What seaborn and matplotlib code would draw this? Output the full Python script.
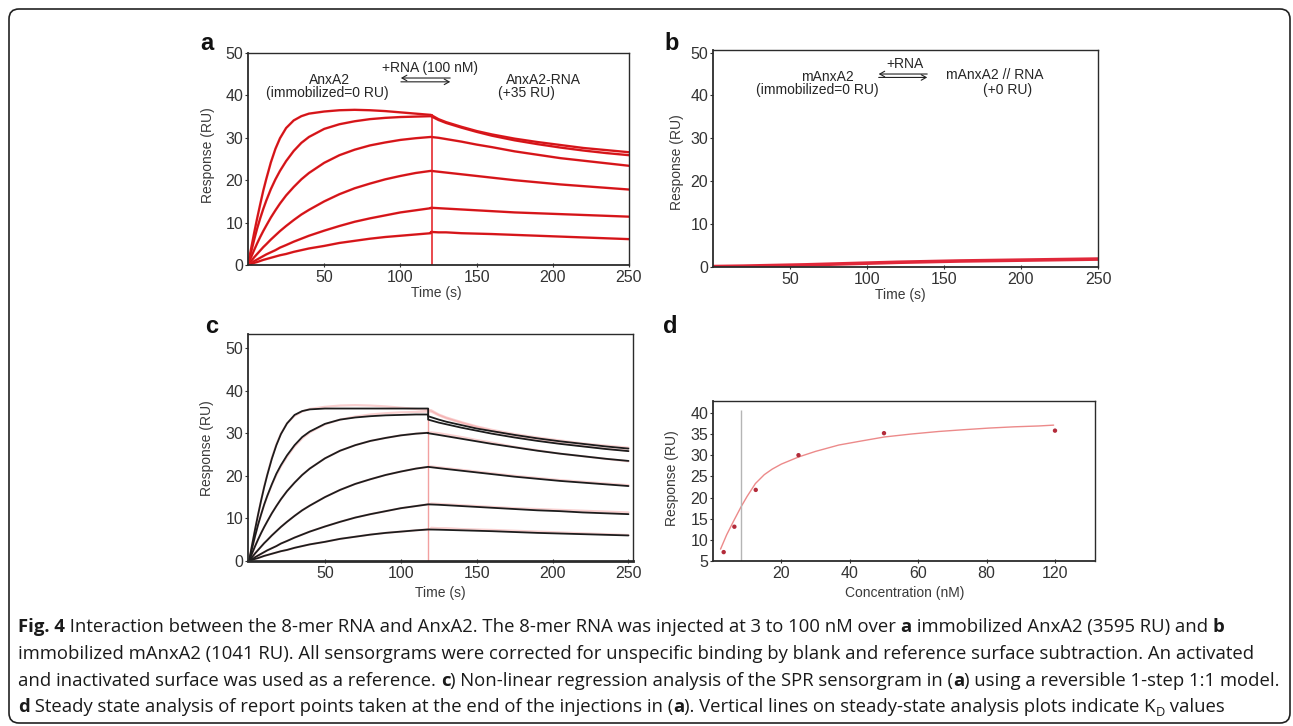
import matplotlib
matplotlib.use("Agg")
import matplotlib.pyplot as plt
import seaborn as sns
from matplotlib import font_manager
from matplotlib.patches import FancyBboxPatch
from matplotlib.transforms import IdentityTransform

W, H, DPI = 1293, 726, 100

# ---------------- data ----------------
# Panel a: sensorgrams (association 0-120 s, dissociation 120-250 s)
t_assoc = [0, 2, 4, 6, 8, 10, 12, 15, 18, 21, 25, 30, 35, 40, 50, 60, 70, 80, 90, 100, 110, 120]
t_dissoc = [120, 125, 130, 140, 150, 160, 175, 190, 205, 220, 235, 250]

a_assoc_1 = [0, 3.8, 7.5, 11.0, 14.3, 17.5, 20.3, 24.2, 27.4, 29.9, 32.3, 34.1, 35.1, 35.7, 36.2, 36.5, 36.6, 36.5, 36.3, 36.0, 35.7, 35.4]
a_assoc_2 = [0, 3.0, 5.9, 8.6, 11.0, 13.2, 15.2, 17.9, 20.2, 22.2, 24.5, 26.9, 28.8, 30.2, 32.1, 33.2, 33.9, 34.4, 34.7, 34.9, 35.0, 35.1]
a_assoc_3 = [0, 1.8, 3.5, 5.1, 6.6, 8.0, 9.3, 11.2, 12.9, 14.5, 16.4, 18.4, 20.2, 21.7, 24.1, 25.9, 27.2, 28.2, 28.9, 29.5, 29.9, 30.2]
a_assoc_4 = [0, 0.9, 1.8, 2.6, 3.4, 4.2, 4.9, 6.0, 7.0, 8.0, 9.2, 10.6, 11.9, 13.0, 15.0, 16.7, 18.1, 19.2, 20.2, 21.0, 21.7, 22.2]
a_assoc_5 = [0, 0.4, 0.9, 1.3, 1.7, 2.1, 2.5, 3.0, 3.5, 4.1, 4.7, 5.5, 6.2, 6.9, 8.1, 9.2, 10.2, 11.0, 11.7, 12.4, 12.9, 13.4]
a_assoc_6 = [0, 0.25, 0.5, 0.7, 0.95, 1.2, 1.4, 1.7, 2.0, 2.3, 2.6, 3.1, 3.5, 3.9, 4.5, 5.2, 5.7, 6.2, 6.6, 6.9, 7.2, 7.5]

a_dissoc_1 = [35.4, 34.4, 33.7, 32.6, 31.6, 30.8, 29.8, 29.0, 28.3, 27.6, 27.1, 26.6]
a_dissoc_2 = [35.1, 34.2, 33.5, 32.4, 31.4, 30.5, 29.4, 28.5, 27.7, 27.0, 26.4, 25.9]
a_dissoc_3 = [30.2, 30.0, 29.7, 29.1, 28.4, 27.8, 26.8, 26.0, 25.2, 24.6, 24.0, 23.4]
a_dissoc_4 = [22.2, 22.0, 21.8, 21.4, 21.0, 20.6, 20.0, 19.5, 19.0, 18.6, 18.2, 17.8]
a_dissoc_5 = [13.5, 13.4, 13.3, 13.1, 12.9, 12.7, 12.4, 12.2, 12.0, 11.8, 11.6, 11.4]
a_dissoc_6 = [7.8, 7.7, 7.7, 7.5, 7.4, 7.3, 7.1, 6.9, 6.7, 6.5, 6.3, 6.1]
a_injection_end = 120.5
a_injection_top = 35.5

# Panel b: mutant surface, flat response
b_time = [0, 20, 40, 60, 80, 100, 120, 140, 160, 180, 200, 220, 240, 250]
b_resp = [0.1, 0.2, 0.35, 0.5, 0.7, 0.9, 1.1, 1.25, 1.4, 1.5, 1.6, 1.7, 1.8, 1.85]

# Panel c: 1:1 model fits (black) over the data
c_t_assoc = [0, 2, 4, 6, 8, 10, 12, 15, 18, 21, 25, 30, 35, 40, 50, 60, 70, 80, 90, 100, 110, 118]
c_t_dissoc = [118, 125, 130, 140, 150, 160, 175, 190, 205, 220, 235, 250]
c_fit_assoc_1 = [0, 3.8, 7.5, 11.0, 14.3, 17.4, 20.2, 24.0, 27.2, 29.8, 32.3, 34.3, 35.2, 35.6, 35.8, 35.8, 35.8, 35.8, 35.8, 35.8, 35.8, 35.8]
c_fit_assoc_2 = [0, 3.0, 5.9, 8.6, 11.0, 13.3, 15.3, 18.0, 20.5, 22.5, 24.8, 27.2, 29.1, 30.4, 32.2, 33.2, 33.7, 34.0, 34.2, 34.3, 34.4, 34.4]
c_fit_assoc_3 = [0, 1.8, 3.5, 5.1, 6.6, 8.0, 9.3, 11.2, 12.9, 14.5, 16.4, 18.4, 20.2, 21.7, 24.1, 25.9, 27.2, 28.2, 28.9, 29.5, 29.9, 30.1]
c_fit_assoc_4 = [0, 0.9, 1.8, 2.6, 3.4, 4.2, 4.9, 6.0, 7.0, 8.0, 9.2, 10.6, 11.9, 13.0, 15.0, 16.7, 18.1, 19.2, 20.2, 21.0, 21.7, 22.1]
c_fit_assoc_5 = [0, 0.4, 0.9, 1.3, 1.7, 2.1, 2.5, 3.0, 3.5, 4.1, 4.7, 5.5, 6.2, 6.9, 8.1, 9.2, 10.2, 11.0, 11.7, 12.4, 12.9, 13.3]
c_fit_assoc_6 = [0, 0.25, 0.5, 0.7, 0.95, 1.2, 1.4, 1.7, 2.0, 2.3, 2.6, 3.1, 3.5, 3.9, 4.5, 5.2, 5.7, 6.2, 6.6, 6.9, 7.2, 7.4]
c_fit_dissoc_1 = [34.0, 33.2, 32.7, 31.9, 31.1, 30.5, 29.6, 28.8, 28.1, 27.5, 26.9, 26.4]
c_fit_dissoc_2 = [33.2, 32.5, 32.1, 31.3, 30.6, 29.9, 29.0, 28.2, 27.5, 26.9, 26.3, 25.8]
c_fit_dissoc_3 = [30.0, 29.6, 29.3, 28.7, 28.1, 27.5, 26.7, 25.9, 25.2, 24.6, 24.0, 23.5]
c_fit_dissoc_4 = [22.1, 21.8, 21.6, 21.2, 20.8, 20.4, 19.8, 19.3, 18.8, 18.4, 18.0, 17.6]
c_fit_dissoc_5 = [13.3, 13.2, 13.1, 12.9, 12.7, 12.5, 12.2, 11.9, 11.7, 11.4, 11.2, 11.0]
c_fit_dissoc_6 = [7.4, 7.35, 7.3, 7.2, 7.1, 7.0, 6.8, 6.6, 6.45, 6.3, 6.15, 6.0]
c_injection_end = 118
c_injection_top = 36.0

# Panel d: steady-state analysis
d_conc = [3.125, 6.25, 12.5, 25, 50, 100]
d_resp = [7.1, 13.1, 21.8, 30.0, 35.2, 35.8]
d_fit_conc = [2.2, 4, 6, 8.2, 10, 12.4, 15, 17.3, 20, 25.1, 30, 36.8, 43, 50.1, 58, 66, 73, 80.6, 88, 95.2, 99.6]
d_fit_resp = [7.8, 11.2, 14.4, 17.8, 20.3, 23.3, 25.4, 26.7, 27.9, 29.6, 30.9, 32.4, 33.3, 34.3, 35.0, 35.6, 36.0, 36.4, 36.7, 36.9, 37.1]
d_kd = 8.2
d_xticks = [20, 40, 60, 80, 100]
d_xticklabels = ["20", "40", "60", "80", "120"]

caption_lines = [
    [("Fig. 4", "bold"), (" Interaction between the 8-mer RNA and AnxA2. The 8-mer RNA was injected at 3 to 100 nM over ", "normal"),
     ("a", "bold"), (" immobilized AnxA2 (3595 RU) and ", "normal"), ("b", "bold")],
    [("immobilized mAnxA2 (1041 RU). All sensorgrams were corrected for unspecific binding by blank and reference surface subtraction. An activated", "normal")],
    [("and inactivated surface was used as a reference. ", "normal"), ("c", "bold"),
     (") Non-linear regression analysis of the SPR sensorgram in (", "normal"), ("a", "bold"),
     (") using a reversible 1-step 1:1 model.", "normal")],
    [("d", "bold"), (" Steady state analysis of report points taken at the end of the injections in (", "normal"), ("a", "bold"),
     ("). Vertical lines on steady-state analysis plots indicate K", "normal"), ("D", "sub"), (" values", "normal")],
]

# ---------------- styling ----------------
sns.set_style("white")
plt.rcParams["font.family"] = ["Liberation Sans", "DejaVu Sans"]
CAP = ["Open Sans", "DejaVu Sans"]
RED = "#e3181d"


def font_available(name):
    try:
        font_manager.findfont(font_manager.FontProperties(family=name), fallback_to_default=False)
        return True
    except Exception:
        return False


if font_available("Liberation Sans Narrow"):
    NARROW, LAB_SIZE = ["Liberation Sans Narrow", "DejaVu Sans"], 11
else:
    NARROW, LAB_SIZE = ["Liberation Sans", "DejaVu Sans"], 10

fig = plt.figure(figsize=(W / DPI, H / DPI), dpi=DPI)
fig.patch.set_facecolor("white")


def add_ax(left, top, right, bottom):
    return fig.add_axes([left / W, 1 - bottom / H, (right - left) / W, (bottom - top) / H])


def ftext(x, y, s, **kw):
    return fig.text(x / W, 1 - y / H, s, **kw)


def style(ax):
    for s in ax.spines.values():
        s.set_visible(True)
        s.set_color("#2b2b2b")
        s.set_linewidth(1.0)
    ax.spines["left"].set_linewidth(1.3)
    ax.spines["bottom"].set_linewidth(1.3)
    ax.tick_params(axis="y", labelsize=11.5, labelcolor="#333333", color="#333333",
                   length=2.5, width=0.8, direction="out", pad=1, left=True)
    ax.tick_params(axis="x", labelsize=11.5, labelcolor="#333333", color="#333333",
                   length=3, width=0.8, direction="inout", pad=2, bottom=True)
    ax.set_xlabel("")
    ax.set_ylabel("")
    ax.grid(False)


def eq_arrows(ax, x0, x1, y_top, y_bot):
    ax.annotate("", xy=(x0, y_top), xytext=(x1, y_top),
                arrowprops=dict(arrowstyle="->,head_length=0.35,head_width=0.2", lw=0.8, color="#222"))
    ax.annotate("", xy=(x1, y_bot), xytext=(x0, y_bot),
                arrowprops=dict(arrowstyle="->,head_length=0.35,head_width=0.2", lw=0.8, color="#222"))


# ---------------- panel a ----------------
ax_a = add_ax(248, 53, 629, 265)
a_assoc = [a_assoc_1, a_assoc_2, a_assoc_3, a_assoc_4, a_assoc_5, a_assoc_6]
a_dissoc = [a_dissoc_1, a_dissoc_2, a_dissoc_3, a_dissoc_4, a_dissoc_5, a_dissoc_6]
for va, vd in zip(a_assoc, a_dissoc):
    sns.lineplot(x=t_assoc + t_dissoc, y=va + vd, ax=ax_a, color=RED, lw=1.7,
                 estimator=None, sort=False, legend=False)
    sns.lineplot(x=t_assoc + t_dissoc, y=va + vd, ax=ax_a, color="#9a1515", lw=0.4, alpha=0.6,
                 estimator=None, sort=False, legend=False)
ax_a.vlines(a_injection_end, 0, a_injection_top, color=RED, lw=1.1)
ax_a.set_xlim(0, 250)
ax_a.set_ylim(0, 50)
ax_a.set_xticks([50, 100, 150, 200, 250])
ax_a.set_yticks([0, 10, 20, 30, 40, 50])
style(ax_a)
ax_a.text(53.8, 43.6, "AnxA2", ha="center", va="center", fontsize=10)
ax_a.text(51.8, 40.6, "(immobilized=0 RU)", ha="center", va="center", fontsize=10)
ax_a.text(119.4, 46.5, "+RNA (100 nM)", ha="center", va="center", fontsize=10)
eq_arrows(ax_a, 98.5, 134.5, 44.1, 43.2)
ax_a.text(193.6, 43.6, "AnxA2-RNA", ha="center", va="center", fontsize=10)
ax_a.text(183, 40.6, "(+35 RU)", ha="center", va="center", fontsize=10)

# ---------------- panel b ----------------
ax_b = add_ax(713, 50, 1098, 267)
sns.lineplot(x=b_time, y=b_resp, ax=ax_b, color="#e0283a", lw=2.6,
             estimator=None, sort=False, legend=False)
ax_b.set_xlim(0, 250)
ax_b.set_ylim(0, 50.6)
ax_b.set_xticks([50, 100, 150, 200, 250])
ax_b.set_yticks([0, 10, 20, 30, 40, 50])
style(ax_b)
ax_b.text(74, 44.3, "mAnxA2", ha="center", va="center", fontsize=10)
ax_b.text(67.5, 41.2, "(immobilized=0 RU)", ha="center", va="center", fontsize=10)
ax_b.text(124.7, 47.4, "+RNA", ha="center", va="center", fontsize=10)
eq_arrows(ax_b, 105.8, 140.9, 45.0, 44.2)
ax_b.text(183, 44.8, "mAnxA2 // RNA", ha="center", va="center", fontsize=10)
ax_b.text(191, 41.2, "(+0 RU)", ha="center", va="center", fontsize=10)

# ---------------- panel c ----------------
ax_c = add_ax(248, 334, 633, 561)
for va, vd in zip(a_assoc, a_dissoc):
    sns.lineplot(x=t_assoc + t_dissoc, y=va + vd, ax=ax_c, color="#f08a8a", lw=1.6, alpha=0.4,
                 estimator=None, sort=False, legend=False)
c_assoc = [c_fit_assoc_1, c_fit_assoc_2, c_fit_assoc_3, c_fit_assoc_4, c_fit_assoc_5, c_fit_assoc_6]
c_dissoc = [c_fit_dissoc_1, c_fit_dissoc_2, c_fit_dissoc_3, c_fit_dissoc_4, c_fit_dissoc_5, c_fit_dissoc_6]
ax_c.vlines(c_injection_end, 0, c_injection_top, color="#f2a0a0", lw=1.0)
for va, vd in zip(c_assoc, c_dissoc):
    sns.lineplot(x=c_t_assoc + c_t_dissoc, y=va + vd, ax=ax_c, color="#1c1c1c", lw=1.3,
                 estimator=None, sort=False, legend=False)
ax_c.set_xlim(-0.7, 253)
ax_c.set_ylim(0, 53.3)
ax_c.set_xticks([50, 100, 150, 200, 250])
ax_c.set_yticks([0, 10, 20, 30, 40, 50])
style(ax_c)
ax_c.spines["bottom"].set_linewidth(2.0)

# ---------------- panel d ----------------
ax_d = add_ax(713, 401, 1095, 561)
sns.lineplot(x=d_fit_conc, y=d_fit_resp, ax=ax_d, color="#ec8a8a", lw=1.0,
             estimator=None, sort=False, legend=False)
ax_d.vlines(d_kd, 5, 40.7, color="#b5b5b5", lw=1.0)
sns.scatterplot(x=d_conc, y=d_resp, ax=ax_d, color="#b32b3a", s=10, edgecolor="none", legend=False, zorder=5)
ax_d.set_xlim(0, 111.7)
ax_d.set_ylim(5, 42.8)
ax_d.set_xticks(d_xticks)
ax_d.set_xticklabels(d_xticklabels)
ax_d.set_yticks([5, 10, 15, 20, 25, 30, 35, 40])
style(ax_d)

# ---------------- axis labels and panel letters ----------------
lab = dict(family=NARROW, fontsize=LAB_SIZE, color="#3a3a3a", ha="center", va="center")
ftext(208, 155, "Response (RU)", rotation=90, **lab)
ftext(436, 293, "Time (s)", **lab)
ftext(677, 162, "Response (RU)", rotation=90, **lab)
ftext(900, 295, "Time (s)", **lab)
ftext(207, 448, "Response (RU)", rotation=90, **lab)
ftext(440, 593, "Time (s)", **lab)
ftext(672, 478, "Response (RU)", rotation=90, **lab)
ftext(905, 593, "Concentration (nM)", **lab)

let = dict(fontsize=17, fontweight="bold", ha="center", va="baseline", color="#111")
ftext(207, 50, "a", **let)
ftext(672, 50, "b", **let)
ftext(212, 333, "c", **let)
ftext(670, 333, "d", **let)

# ---------------- caption ----------------
renderer = fig.canvas.get_renderer()


def run_width(s, size, weight):
    t1 = fig.text(0, 0, s + "|", fontsize=size, fontweight=weight, family=CAP)
    t2 = fig.text(0, 0, "|", fontsize=size, fontweight=weight, family=CAP)
    w = t1.get_window_extent(renderer).width - t2.get_window_extent(renderer).width
    t1.remove()
    t2.remove()
    return w


def line_width(runs, size):
    total = 0
    for s, kind in runs:
        if kind == "sub":
            total += run_width(s, size * 0.7, "normal")
        else:
            total += run_width(s, size, kind)
    return total


base = 11.0
cap_size = base * (1259.0 / line_width(caption_lines[2], base))
baselines = [632, 659, 686, 712]
for runs, yb in zip(caption_lines, baselines):
    x = 18.0
    for s, kind in runs:
        if kind == "sub":
            sz, wt, dy = cap_size * 0.7, "normal", 3.5
        else:
            sz, wt, dy = cap_size, kind, 0
        ftext(x, yb + dy, s, fontsize=sz, fontweight=wt, family=CAP, color="#1a1a1a",
              ha="left", va="baseline")
        x += run_width(s, sz, wt)

# ---------------- outer rounded frame ----------------
frame = FancyBboxPatch((9, H - 723), 1281, 714, boxstyle="round,pad=0,rounding_size=10",
                       transform=IdentityTransform(), fill=False, edgecolor="#222", lw=1.2)
fig.patches.append(frame)

fig.savefig("out.png", dpi=DPI, facecolor="white")
